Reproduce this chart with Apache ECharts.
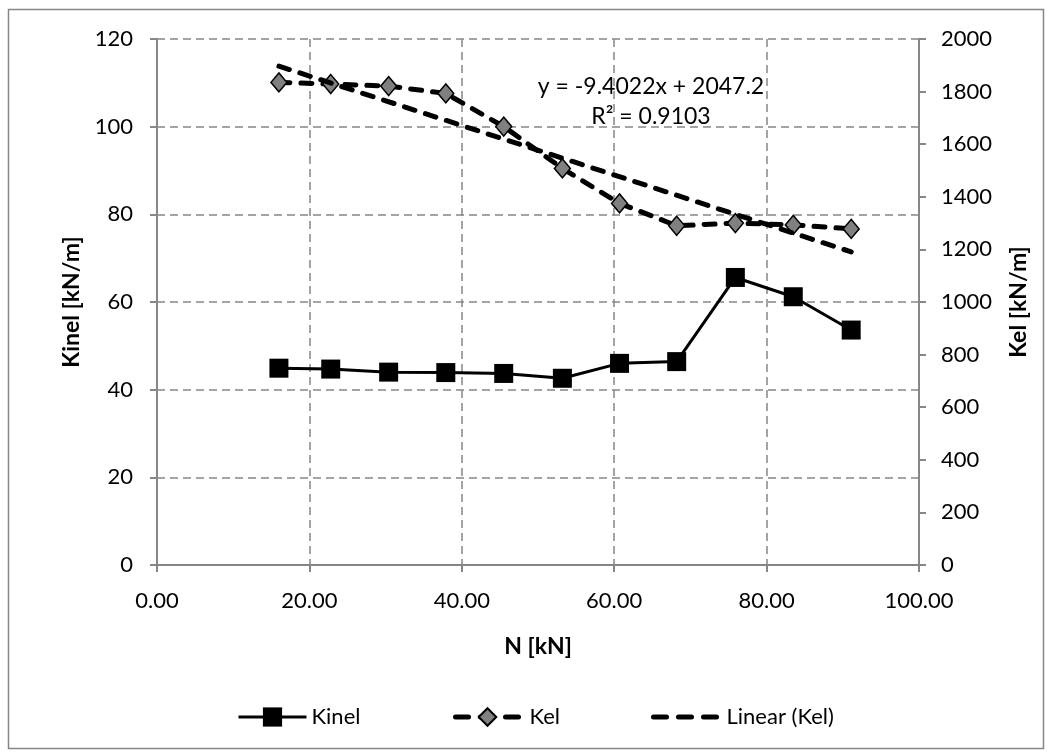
<!DOCTYPE html>
<html>
<head>
<meta charset="utf-8">
<script src="https://cdn.jsdelivr.net/npm/echarts@6/dist/echarts.min.js"></script>
<style>
html, body { margin: 0; padding: 0; background: #fff; }
#chart { width: 1047px; height: 753px; }
</style>
</head>
<body>
<div id="chart"></div>
<script>
// Axial load N [kN] for each measurement step
const loadN = [16.0, 22.8, 30.4, 37.9, 45.5, 53.2, 60.7, 68.2, 75.9, 83.5, 91.1];
// Inelastic stiffness Kinel [kN/m] (left axis)
const kinel = [44.9, 44.7, 44.0, 43.9, 43.7, 42.6, 46.0, 46.4, 65.6, 61.2, 53.6];
// Elastic stiffness Kel [kN/m] (right axis)
const kel = [1835, 1829, 1821, 1793, 1667, 1508, 1375, 1290, 1300, 1293, 1278];
// Least-squares fit of Kel over N
const fitSlope = -9.4022;
const fitIntercept = 2047.2;
const fitR2 = 0.9103;
// Axis ranges: [min, max, step]
const xRange = [0, 100, 20];
const leftRange = [0, 120, 20];
const rightRange = [0, 2000, 200];

const FONT = 'Lato';
const AXIS_GREY = '#868686';
const DASH = [11, 11];
const LEGEND_DASH = [13, 12];

const kinelPoints = loadN.map((n, i) => [n, kinel[i]]);
const kelPoints = loadN.map((n, i) => [n, kel[i]]);
const nMin = Math.min(...loadN);
const nMax = Math.max(...loadN);
const fitPoints = [nMin, nMax].map(n => [n, fitSlope * n + fitIntercept]);

const chart = echarts.init(document.getElementById('chart'), null, { renderer: 'canvas' });

const axisCommon = {
  axisLine: { show: true, onZero: false, lineStyle: { color: AXIS_GREY, width: 2 } },
  axisTick: { show: true, inside: false, length: 7, lineStyle: { color: AXIS_GREY, width: 2 } },
  axisLabel: { color: '#000', fontFamily: FONT, fontSize: 22 },
  nameTextStyle: { color: '#000', fontFamily: FONT, fontSize: 23, fontWeight: 'bold' }
};

const legendText = { color: '#000', fontFamily: FONT, fontSize: 22 };
const legendCommon = {
  orient: 'horizontal',
  top: 701,
  itemHeight: 24,
  selectedMode: false,
  textStyle: legendText
};

const plainNumber = v => String(v);

chart.setOption({
  animation: false,
  backgroundColor: '#fff',
  grid: { left: 157, right: 128, top: 39, bottom: 188, containLabel: false },
  graphic: [
    {
      type: 'rect', left: 6, top: 7, silent: true,
      shape: { width: 1035, height: 739 },
      style: { fill: 'none', stroke: AXIS_GREY, lineWidth: 1.5 }
    },
    {
      type: 'text', x: 651, y: 87, silent: true, z: 100,
      style: {
        text: 'y = ' + fitSlope.toFixed(4) + 'x + ' + fitIntercept.toFixed(1),
        fill: '#000', font: '23px ' + FONT, align: 'center', verticalAlign: 'middle'
      }
    },
    {
      type: 'text', x: 651, y: 117, silent: true, z: 100,
      style: {
        text: 'R² = ' + fitR2.toFixed(4),
        fill: '#000', font: '23px ' + FONT, align: 'center', verticalAlign: 'middle'
      }
    }
  ],
  legend: [
    Object.assign({}, legendCommon, {
      left: 232, itemWidth: 68, data: ['Kinel'],
      lineStyle: { width: 3 }
    }),
    Object.assign({}, legendCommon, {
      left: 448, itemWidth: 64, itemHeight: 22, data: ['Kel'],
      textStyle: Object.assign({}, legendText, { padding: [0, 0, 0, 5] }),
      lineStyle: { width: 5, type: LEGEND_DASH, cap: 'round' }
    }),
    Object.assign({}, legendCommon, {
      left: 646, itemWidth: 64,
      textStyle: Object.assign({}, legendText, { padding: [0, 0, 0, 4] }),
      lineStyle: { width: 5, type: LEGEND_DASH, cap: 'round' },
      data: [{ name: 'Linear (Kel)', itemStyle: { color: 'rgba(0,0,0,0)', borderWidth: 0 } }]
    })
  ],
  xAxis: Object.assign({}, axisCommon, {
    type: 'value',
    min: xRange[0], max: xRange[1], interval: xRange[2],
    name: 'N [kN]', nameLocation: 'middle', nameGap: 70,
    axisLabel: Object.assign({}, axisCommon.axisLabel, {
      margin: 25,
      formatter: v => v.toFixed(2)
    }),
    splitLine: { show: true, lineStyle: { color: AXIS_GREY, width: 1.5, type: [8, 5] } }
  }),
  yAxis: [
    Object.assign({}, axisCommon, {
      type: 'value', position: 'left',
      min: leftRange[0], max: leftRange[1], interval: leftRange[2],
      name: 'Kinel [kN/m]', nameLocation: 'middle', nameGap: 74, nameRotate: 90,
      axisLabel: Object.assign({}, axisCommon.axisLabel, { margin: 24, formatter: plainNumber }),
      splitLine: { show: true, lineStyle: { color: AXIS_GREY, width: 1.5, type: [8, 5] } }
    }),
    Object.assign({}, axisCommon, {
      type: 'value', position: 'right',
      min: rightRange[0], max: rightRange[1], interval: rightRange[2],
      name: 'Kel [kN/m]', nameLocation: 'middle', nameGap: 88, nameRotate: 90,
      axisLabel: Object.assign({}, axisCommon.axisLabel, { margin: 22, formatter: plainNumber }),
      splitLine: { show: false }
    })
  ],
  series: [
    {
      name: 'Kinel', type: 'line', yAxisIndex: 0, z: 3,
      data: kinelPoints,
      symbol: 'rect', symbolSize: 19,
      itemStyle: { color: '#000' },
      lineStyle: { color: '#000', width: 3 }
    },
    {
      name: 'Kel', type: 'line', yAxisIndex: 1, z: 4,
      data: kelPoints,
      symbol: 'diamond', symbolSize: [16, 19],
      itemStyle: { color: '#808080', borderColor: '#000', borderWidth: 1.5 },
      lineStyle: { color: '#000', width: 5, type: DASH, cap: 'round' }
    },
    {
      name: 'Linear (Kel)', type: 'line', yAxisIndex: 1, z: 5,
      data: fitPoints,
      symbol: 'none',
      itemStyle: { color: '#000' },
      lineStyle: { color: '#000', width: 5, type: DASH, cap: 'round' }
    }
  ]
});
</script>
</body>
</html>
